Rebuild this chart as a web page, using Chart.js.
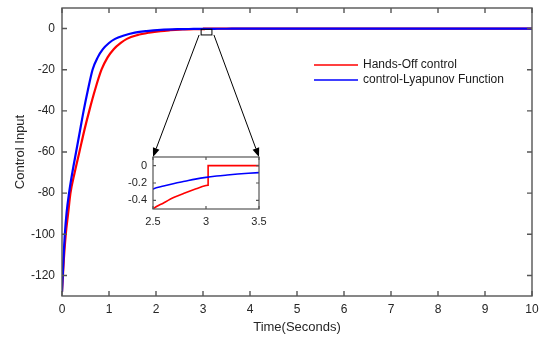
<!DOCTYPE html>
<html>
<head>
<meta charset="utf-8">
<title>Control Input</title>
<script src="https://cdn.jsdelivr.net/npm/chart.js@4.4.1/dist/chart.umd.min.js"></script>
<style>
  html, body { margin: 0; padding: 0; background: #fff; }
  #wrap { position: relative; width: 546px; height: 340px; }
  #main { position: absolute; left: 0; top: 0; }
  #inset { position: absolute; left: 110px; top: 150px; }
</style>
</head>
<body>
<div id="wrap">
  <canvas id="main" width="546" height="340"></canvas>
  <canvas id="inset" width="160" height="82"></canvas>
</div>
<script>
"use strict";

// Hands-Off control (red), switched off at t = 3.02
var timeHandsOff = [0, 0.04, 0.08, 0.13, 0.18, 0.27, 0.37, 0.48, 0.58, 0.7, 0.84, 0.97, 1.1, 1.25, 1.38,
    1.6, 1.85, 2.1, 2.3, 2.5, 2.6, 2.7, 2.8, 2.9, 3.0, 3.02, 3.02, 3.5, 10];
var handsOff = [-128, -112, -100, -90, -80, -70, -60, -49, -40, -30, -20, -14, -10, -7, -5,
    -3.2, -2, -1.2, -0.8, -0.5, -0.43, -0.365, -0.315, -0.27, -0.23, -0.225, 0, 0, 0];

// control-Lyapunov Function (blue)
var timeClf = [0, 0.03, 0.06, 0.1, 0.15, 0.22, 0.3, 0.38, 0.46, 0.55, 0.65, 0.76, 0.87, 1.0, 1.13,
    1.3, 1.55, 1.8, 2.1, 2.5, 2.6, 2.7, 2.8, 2.9, 3.0, 3.1, 3.2, 3.3, 3.4, 3.5, 4, 5, 6, 8, 10];
var clf = [-128, -113, -100, -89, -80, -70, -60, -50, -40, -30, -20, -14, -10, -7, -5,
    -3.5, -2, -1.2, -0.6, -0.27, -0.235, -0.205, -0.18, -0.155, -0.135, -0.12, -0.108, -0.097, -0.088, -0.08, -0.05, -0.02, -0.01, 0, 0];

var seriesNames = ["Hands-Off control", "control-Lyapunov Function"];

var xTicks = [0, 1, 2, 3, 4, 5, 6, 7, 8, 9, 10];
var yTicks = [-120, -100, -80, -60, -40, -20, 0];
var insetXTicks = [2.5, 3, 3.5];
var insetYTicks = [-0.4, -0.2, 0];

Chart.defaults.font.family = "'Liberation Sans', Arial, sans-serif";
Chart.defaults.color = "#262626";

function points(t, v) {
    return t.map(function (x, i) { return {x: x, y: v[i]}; });
}

function datasets(width) {
    return [{
        label: seriesNames[0],
        data: points(timeHandsOff, handsOff),
        borderColor: "#ff0000",
        borderWidth: width,
        order: 1,
        clip: 0
    }, {
        label: seriesNames[1],
        data: points(timeClf, clf),
        borderColor: "#0000ff",
        borderWidth: width,
        order: 0,
        clip: 0
    }];
}

function fixedTicks(list) {
    return function (scale) {
        scale.ticks = list.map(function (v) { return {value: v}; });
    };
}

// MATLAB like box: white plot area, frame and inward ticks on all four sides
var boxAxes = {
    id: "boxAxes",
    beforeDatasetsDraw: function (chart) {
        var a = chart.chartArea, ctx = chart.ctx;
        ctx.save();
        ctx.fillStyle = "#fff";
        ctx.fillRect(a.left, a.top, a.right - a.left, a.bottom - a.top);
        ctx.restore();
    },
    afterDraw: function (chart, args, opts) {
        var a = chart.chartArea, ctx = chart.ctx, len = opts.tickLength;
        var xs = chart.scales.x, ys = chart.scales.y;
        ctx.save();
        ctx.strokeStyle = opts.color;
        ctx.lineWidth = opts.lineWidth;
        ctx.strokeRect(a.left, a.top, a.right - a.left, a.bottom - a.top);
        ctx.beginPath();
        xs.ticks.forEach(function (t) {
            var px = xs.getPixelForValue(t.value);
            ctx.moveTo(px, a.bottom); ctx.lineTo(px, a.bottom - len);
            ctx.moveTo(px, a.top); ctx.lineTo(px, a.top + len);
        });
        ys.ticks.forEach(function (t) {
            var py = ys.getPixelForValue(t.value);
            ctx.moveTo(a.left, py); ctx.lineTo(a.left + len, py);
            ctx.moveTo(a.right, py); ctx.lineTo(a.right - len, py);
        });
        ctx.stroke();
        ctx.restore();
    }
};

function arrow(ctx, x1, y1, x2, y2) {
    var ang = Math.atan2(y2 - y1, x2 - x1), head = 9, half = 3.5;
    ctx.beginPath();
    ctx.moveTo(x1, y1);
    ctx.lineTo(x2 - Math.cos(ang) * head, y2 - Math.sin(ang) * head);
    ctx.stroke();
    ctx.beginPath();
    ctx.moveTo(x2, y2);
    ctx.lineTo(x2 - Math.cos(ang) * head - Math.sin(ang) * half, y2 - Math.sin(ang) * head + Math.cos(ang) * half);
    ctx.lineTo(x2 - Math.cos(ang) * head + Math.sin(ang) * half, y2 - Math.sin(ang) * head - Math.cos(ang) * half);
    ctx.closePath();
    ctx.fill();
}

// scale with fixed size and no extra label padding, so layout.padding places the plot area
function axisOptions(min, max, ticks, size, pad, fit) {
    return {
        type: "linear",
        min: min,
        max: max,
        grid: {display: false, drawTicks: false},
        border: {display: false},
        afterBuildTicks: fixedTicks(ticks),
        afterFit: function (s) {
            fit(s);
            s.paddingTop = 0;
            s.paddingBottom = 0;
            s.paddingLeft = 0;
            s.paddingRight = 0;
        },
        ticks: {
            padding: pad,
            font: {size: size},
            color: "#262626",
            autoSkip: false,
            maxRotation: 0,
            callback: function (v) { return String(v); }
        }
    };
}

// Inset, zoom on 2.5 .. 3.5 s
var insetCanvas = document.getElementById("inset");
var insetX = axisOptions(2.5, 3.5, insetXTicks, 11, 6, function (s) { s.height = 23; });
var insetY = axisOptions(-0.5, 0.1, insetYTicks, 11, 6, function (s) { s.width = 43; });
var insetChart = new Chart(insetCanvas.getContext("2d"), {
    type: "line",
    data: {datasets: datasets(1.6)},
    options: {
        responsive: false,
        animation: false,
        devicePixelRatio: 1,
        layout: {padding: {top: 7, right: 11, left: 0, bottom: 0}},
        elements: {point: {radius: 0}, line: {cubicInterpolationMode: "monotone"}},
        plugins: {
            legend: {display: false},
            tooltip: {enabled: false},
            boxAxes: {color: "#555", lineWidth: 1.2, tickLength: 3}
        },
        scales: {x: insetX, y: insetY}
    },
    plugins: [boxAxes]
});

// Zoom box, arrows to the inset and the legend
var annotate = {
    id: "annotate",
    afterDraw: function (chart, args, opts) {
        var ctx = chart.ctx, xs = chart.scales.x, ys = chart.scales.y, b = opts.box;
        var l = xs.getPixelForValue(b.x0), r = xs.getPixelForValue(b.x1);
        var t = ys.getPixelForValue(b.y0), bt = ys.getPixelForValue(b.y1);
        var ia = insetChart.chartArea, ox = insetCanvas.offsetLeft, oy = insetCanvas.offsetTop;
        ctx.save();
        ctx.strokeStyle = "#000";
        ctx.fillStyle = "#000";
        ctx.lineWidth = 1;
        ctx.strokeRect(l, t, r - l, bt - t);
        arrow(ctx, l - 2, bt, ox + ia.left, oy + ia.top);
        arrow(ctx, r + 2, bt, ox + ia.right, oy + ia.top);

        var lg = opts.legend;
        ctx.font = "12px 'Liberation Sans', Arial, sans-serif";
        ctx.textBaseline = "middle";
        ctx.textAlign = "left";
        chart.data.datasets.forEach(function (ds, i) {
            var y = lg.y + i * lg.row;
            ctx.strokeStyle = ds.borderColor;
            ctx.lineWidth = 1.5;
            ctx.beginPath();
            ctx.moveTo(lg.x, y);
            ctx.lineTo(lg.x + lg.line, y);
            ctx.stroke();
            ctx.fillStyle = "#1a1a1a";
            ctx.fillText(ds.label, lg.x + lg.line + 5, y);
        });
        ctx.restore();
    }
};

var mainX = axisOptions(0, 10, xTicks, 12, 6, function (s) { s.height = 44; });
mainX.title = {display: true, text: "Time(Seconds)", font: {size: 13}, color: "#262626", padding: {top: 0, bottom: 5}};
var mainY = axisOptions(-130, 10, yTicks, 12, 7, function (s) { s.width = 62; });
mainY.title = {display: true, text: "Control Input", font: {size: 13}, color: "#262626", padding: {top: 13, bottom: 0}};

var mainChart = new Chart(document.getElementById("main").getContext("2d"), {
    type: "line",
    data: {datasets: datasets(2.2)},
    options: {
        responsive: false,
        animation: false,
        devicePixelRatio: 1,
        layout: {padding: {top: 8, right: 14, left: 0, bottom: 0}},
        elements: {point: {radius: 0}, line: {cubicInterpolationMode: "monotone"}},
        plugins: {
            legend: {display: false},
            tooltip: {enabled: false},
            boxAxes: {color: "#555", lineWidth: 1.4, tickLength: 5},
            annotate: {
                box: {x0: 2.96, x1: 3.19, y0: -0.35, y1: -3.1},
                legend: {x: 314, y: 65, row: 15, line: 44}
            }
        },
        scales: {x: mainX, y: mainY}
    },
    plugins: [boxAxes, annotate]
});
</script>
</body>
</html>
